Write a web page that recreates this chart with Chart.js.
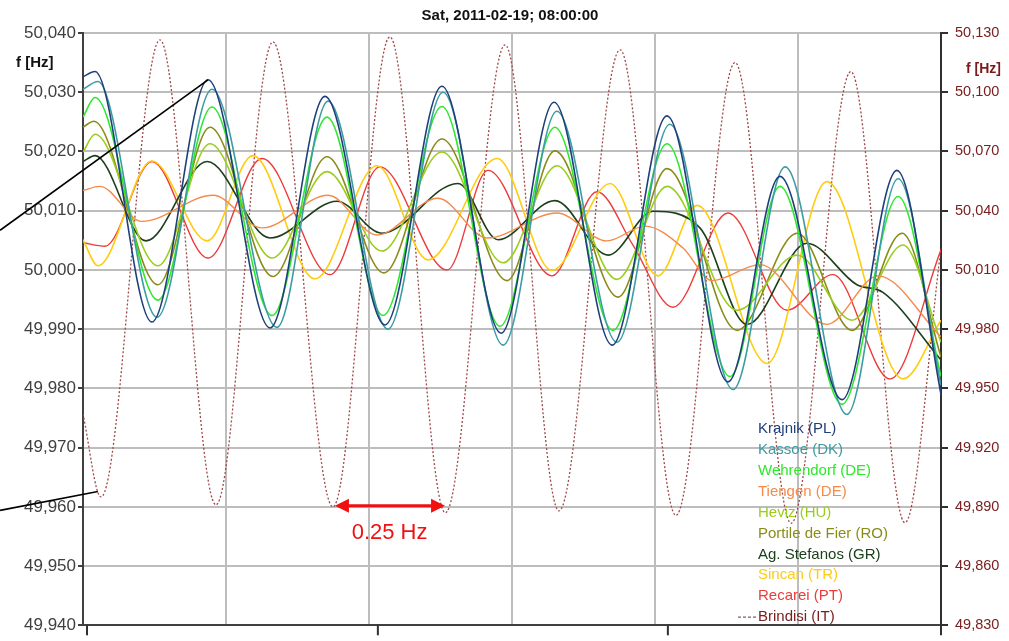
<!DOCTYPE html>
<html lang="en">
<head>
    <meta charset="UTF-8">
    <title>Frequency oscillation 2011-02-19</title>
    <script src="https://cdn.jsdelivr.net/npm/chart.js"></script>
    <style>
        body { margin: 0; background: #fff; }
        canvas { display: block; }
    </style>
</head>
<body>
    <canvas id="freqChart" width="1009" height="641"></canvas>

    <script>
        // time in seconds, frequency in Hz (turning points)
        const krajnikT = [0, 0.42, 2.41, 4.37, 6.54, 8.46, 10.56, 12.55, 14.62, 16.47, 18.50, 20.42, 22.55, 24.37, 26.54, 28.46, 30];
        const krajnikF = [50.0326, 50.0335, 49.9912, 50.0321, 49.9902, 50.0293, 49.9907, 50.0310, 49.9893, 50.0283, 49.9873, 50.0260, 49.9811, 50.0158, 49.9781, 50.0168, 49.9790];

        const kassoeT = [0, 0.52, 2.59, 4.51, 6.78, 8.57, 10.66, 12.59, 14.69, 16.57, 18.67, 20.52, 22.73, 24.55, 26.71, 28.50, 30];
        const kassoeF = [50.0305, 50.0318, 49.9920, 50.0305, 49.9903, 50.0285, 49.9900, 50.0300, 49.9873, 50.0268, 49.9878, 50.0246, 49.9798, 50.0174, 49.9756, 50.0154, 49.9805];

        const wehrendorfT = [0, 0.42, 2.62, 4.51, 6.61, 8.53, 10.49, 12.55, 14.58, 16.50, 18.53, 20.42, 22.62, 24.37, 26.54, 28.50, 30];
        const wehrendorfF = [50.0258, 50.0291, 49.9949, 50.0275, 49.9923, 50.0258, 49.9923, 50.0276, 49.9905, 50.0241, 49.9898, 50.0213, 49.9820, 50.0141, 49.9773, 50.0124, 49.9820];

        const tiengenT = [0, 0.59, 2.06, 4.55, 6.26, 8.57, 10.28, 12.41, 14.13, 16.57, 18.32, 19.65, 20.98, 21.99, 23.67, 26.01, 27.80, 30];
        const tiengenF = [50.0134, 50.0141, 50.0082, 50.0126, 50.0071, 50.0126, 50.0059, 50.0121, 50.0054, 50.0096, 50.0049, 50.0074, 50.0037, 49.9982, 50.0009, 49.9908, 49.9990, 49.9887];

        const hevizT = [0, 0.42, 2.62, 4.44, 6.61, 8.53, 10.45, 12.55, 14.69, 16.57, 18.67, 20.42, 22.87, 24.97, 26.89, 28.67, 30];
        const hevizF = [50.0199, 50.0229, 50.0007, 50.0213, 50.0020, 50.0166, 50.0032, 50.0199, 50.0012, 50.0176, 49.9984, 50.0141, 49.9932, 50.0025, 49.9915, 50.0042, 49.9878];

        const portileT = [0, 0.38, 2.62, 4.44, 6.64, 8.53, 10.52, 12.55, 14.83, 16.50, 18.71, 20.42, 22.87, 24.97, 26.89, 28.64, 30];
        const portileF = [50.0241, 50.0251, 49.9975, 50.0241, 49.9989, 50.0191, 49.9995, 50.0221, 49.9982, 50.0201, 49.9954, 50.0171, 49.9898, 50.0062, 49.9898, 50.0062, 49.9853];

        const stefanosT = [0, 0.42, 2.20, 4.34, 6.54, 8.88, 10.45, 13.11, 14.51, 16.50, 18.36, 19.93, 21.57, 23.22, 25.31, 27.06, 27.97, 30];
        const stefanosF = [50.0183, 50.0193, 50.0049, 50.0183, 50.0054, 50.0116, 50.0062, 50.0146, 50.0051, 50.0117, 50.0025, 50.0099, 50.0071, 49.9908, 50.0045, 49.9975, 49.9962, 49.9848];

        const sincanT = [0, 0.52, 2.41, 4.34, 5.94, 8.11, 10.28, 12.06, 14.48, 16.40, 18.43, 20.10, 21.47, 23.92, 26.01, 28.67, 30];
        const sincanF = [50.0051, 50.0007, 50.0184, 50.0049, 50.0193, 49.9985, 50.0176, 50.0017, 50.0188, 49.9999, 50.0146, 49.9990, 50.0109, 49.9842, 50.0149, 49.9816, 49.9915];

        const recareiT = [0, 0.77, 2.41, 4.37, 6.26, 8.64, 10.38, 12.73, 14.16, 16.40, 17.97, 19.23, 20.63, 22.55, 24.62, 26.22, 28.22, 30];
        const recareiF = [50.0046, 50.0040, 50.0183, 50.0020, 50.0188, 49.9992, 50.0174, 50.0000, 50.0168, 49.9990, 50.0132, 50.0042, 49.9937, 50.0096, 49.9932, 49.9992, 49.9816, 50.0034];

        // Brindisi is read on the right-hand axis
        const brindisiT = [0, 0.63, 2.69, 4.65, 6.64, 8.74, 10.73, 12.67, 14.76, 16.64, 18.78, 20.73, 22.80, 24.76, 26.85, 28.74, 30];
        const brindisiF = [49.937, 49.895, 50.1265, 49.891, 50.1255, 49.890, 50.128, 49.887, 50.124, 49.888, 50.1215, 49.8857, 50.115, 49.8817, 50.1104, 49.882, 50.021];

        const leftTicks = { min: 49.94, max: 50.04, step: 0.01 };
        const rightTicks = { min: 49.83, max: 50.13, step: 0.03 };
        const bottomTicks = [0.14, 10.31, 20.45, 30];

        // annotation: pointer lines [t0, f0, t1, f1] and the 0.25 Hz arrow
        const pointers = [[-2.9, 50.0067, 4.37, 50.0321], [-2.9, 49.9594, 0.52, 49.9626]];
        const arrowT = [8.81, 12.66];
        const arrowF = 49.9602;
        const arrowLabel = { t: 10.72, f: 49.9556, text: '0.25 Hz' };

        const series = [
            { label: 'Krajnik (PL)', t: krajnikT, f: krajnikF, color: '#1F3F7A', width: 1.6 },
            { label: 'Kassoe (DK)', t: kassoeT, f: kassoeF, color: '#3C9CA4', width: 1.6 },
            { label: 'Wehrendorf (DE)', t: wehrendorfT, f: wehrendorfF, color: '#2EE82E', width: 1.6 },
            { label: 'Tiengen (DE)', t: tiengenT, f: tiengenF, color: '#F58A4A', width: 1.4 },
            { label: 'Heviz (HU)', t: hevizT, f: hevizF, color: '#9ACD1E', width: 1.6 },
            { label: 'Portile de Fier (RO)', t: portileT, f: portileF, color: '#8A8C1A', width: 1.6 },
            { label: 'Ag. Stefanos (GR)', t: stefanosT, f: stefanosF, color: '#1C401C', width: 1.6 },
            { label: 'Sincan (TR)', t: sincanT, f: sincanF, color: '#FFCC10', width: 1.6 },
            { label: 'Recarei (PT)', t: recareiT, f: recareiF, color: '#EE3A3A', width: 1.4 },
            { label: 'Brindisi (IT)', t: brindisiT, f: brindisiF, color: '#A04848', width: 1.3, dash: [2, 2], axis: 'y2' }
        ];

        const fmt = v => v.toFixed(3).replace('.', ',');
        const font = '"Liberation Sans", Arial, sans-serif';

        const datasets = series.map(s => ({
            label: s.label,
            data: s.t.map((t, i) => ({ x: t, y: s.f[i] })),
            borderColor: s.color,
            borderWidth: s.width,
            borderDash: s.dash || [],
            pointRadius: 0,
            cubicInterpolationMode: 'monotone',
            fill: false,
            yAxisID: s.axis || 'y'
        }));

        const decorations = {
            id: 'decorations',
            afterDatasetsDraw(chart) {
                const { ctx, chartArea, scales } = chart;
                const x = scales.x, y = scales.y;
                ctx.save();

                // pointer lines
                ctx.strokeStyle = '#000';
                ctx.lineWidth = 1.6;
                pointers.forEach(p => {
                    ctx.beginPath();
                    ctx.moveTo(x.getPixelForValue(p[0]), y.getPixelForValue(p[1]));
                    ctx.lineTo(x.getPixelForValue(p[2]), y.getPixelForValue(p[3]));
                    ctx.stroke();
                });

                // red double arrow
                const ax0 = x.getPixelForValue(arrowT[0]);
                const ax1 = x.getPixelForValue(arrowT[1]);
                const ay = y.getPixelForValue(arrowF);
                ctx.strokeStyle = '#F01010';
                ctx.fillStyle = '#F01010';
                ctx.lineWidth = 3;
                ctx.beginPath();
                ctx.moveTo(ax0 + 10, ay);
                ctx.lineTo(ax1 - 10, ay);
                ctx.stroke();
                ctx.beginPath();
                ctx.moveTo(ax0, ay);
                ctx.lineTo(ax0 + 14, ay - 7);
                ctx.lineTo(ax0 + 14, ay + 7);
                ctx.closePath();
                ctx.fill();
                ctx.beginPath();
                ctx.moveTo(ax1, ay);
                ctx.lineTo(ax1 - 14, ay - 7);
                ctx.lineTo(ax1 - 14, ay + 7);
                ctx.closePath();
                ctx.fill();
                ctx.font = '22px ' + font;
                ctx.textAlign = 'center';
                ctx.textBaseline = 'middle';
                ctx.fillText(arrowLabel.text, x.getPixelForValue(arrowLabel.t), y.getPixelForValue(arrowLabel.f));

                // legend, text only
                ctx.font = '15px ' + font;
                ctx.textAlign = 'left';
                series.forEach((s, i) => {
                    const ly = chartArea.top + 396 + i * 20.9;
                    ctx.fillStyle = s.color;
                    if (s.dash) {
                        ctx.strokeStyle = '#703030';
                        ctx.lineWidth = 1;
                        ctx.setLineDash([3, 2]);
                        ctx.beginPath();
                        ctx.moveTo(chartArea.right - 203, ly);
                        ctx.lineTo(chartArea.right - 185, ly);
                        ctx.stroke();
                        ctx.setLineDash([]);
                        ctx.fillStyle = '#7A2020';
                    }
                    ctx.fillText(s.label, chartArea.right - 183, ly);
                });
                ctx.restore();
            },
            afterDraw(chart) {
                const { ctx, chartArea, scales } = chart;
                ctx.save();
                // bottom tick marks
                ctx.strokeStyle = '#303030';
                ctx.lineWidth = 2;
                bottomTicks.forEach(t => {
                    const px = scales.x.getPixelForValue(t);
                    ctx.beginPath();
                    ctx.moveTo(px, chartArea.bottom);
                    ctx.lineTo(px, chartArea.bottom + 10);
                    ctx.stroke();
                });
                // title and axis names
                ctx.fillStyle = '#111';
                ctx.font = 'bold 15px ' + font;
                ctx.textAlign = 'center';
                ctx.textBaseline = 'middle';
                ctx.fillText('Sat, 2011-02-19; 08:00:00', 510, 16);
                ctx.font = 'bold 15px ' + font;
                ctx.textAlign = 'left';
                ctx.fillText('f [Hz]', 16, 63);
                ctx.fillStyle = '#7A1A1A';
                ctx.font = 'bold 14px ' + font;
                ctx.fillText('f [Hz]', 966, 69);
                ctx.restore();
            }
        };

        new Chart(document.getElementById('freqChart').getContext('2d'), {
            type: 'line',
            data: { datasets: datasets },
            options: {
                responsive: false,
                animation: false,
                layout: { padding: { top: 33, right: 0, bottom: 0, left: 0 } },
                plugins: { legend: { display: false }, title: { display: false }, tooltip: { enabled: false } },
                scales: {
                    x: {
                        type: 'linear', min: 0, max: 30,
                        ticks: { display: false, stepSize: 5 },
                        grid: { color: '#BDBDBD', lineWidth: 2, drawTicks: false },
                        border: { display: true, color: '#404040', width: 2 },
                        afterFit: s => { s.height = 10; }
                    },
                    y: {
                        min: leftTicks.min, max: leftTicks.max,
                        ticks: { stepSize: leftTicks.step, callback: fmt, color: '#404040', font: { family: font, size: 17 }, padding: 2 },
                        grid: { color: '#BDBDBD', lineWidth: 2, tickLength: 5, tickColor: '#404040' },
                        border: { color: '#404040', width: 2 },
                        afterFit: s => { s.width = 83; }
                    },
                    y2: {
                        position: 'right',
                        min: rightTicks.min, max: rightTicks.max,
                        ticks: { stepSize: rightTicks.step, callback: fmt, color: '#7A2020', font: { family: font, size: 14.5 }, padding: 7 },
                        grid: { drawOnChartArea: false, tickLength: 7, tickColor: '#303030', lineWidth: 2 },
                        border: { color: '#303030', width: 2 },
                        afterFit: s => { s.width = 68; }
                    }
                }
            },
            plugins: [decorations]
        });
    </script>
</body>
</html>
